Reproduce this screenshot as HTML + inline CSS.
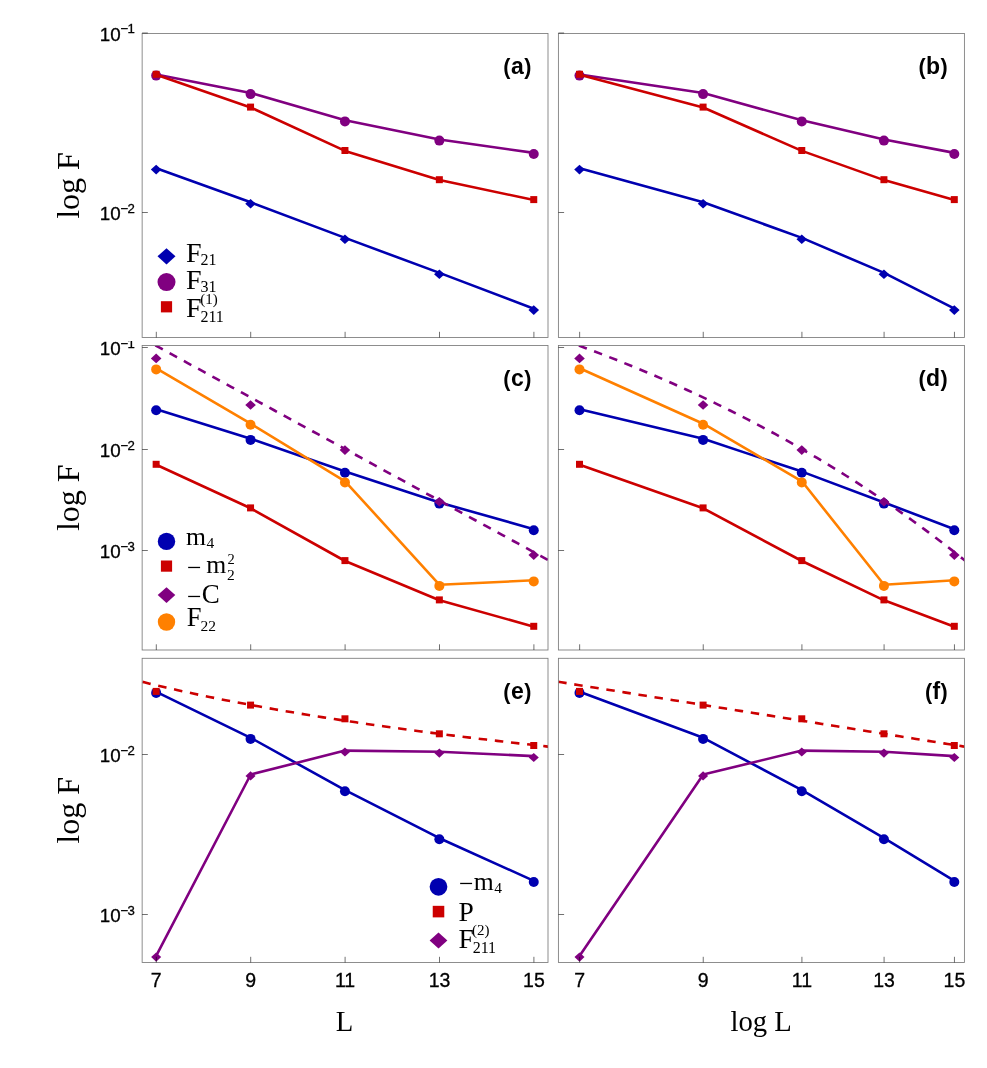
<!DOCTYPE html><html><head><meta charset="utf-8"><style>html,body{margin:0;padding:0;background:#fff}svg{display:block;will-change:transform}</style></head><body><svg width="987" height="1068" viewBox="0 0 987 1068">
<defs>
<clipPath id="cp00"><rect x="142.14" y="33.5" width="405.86" height="304.0"/></clipPath>
<clipPath id="cp01"><rect x="558.4" y="33.5" width="406.0" height="304.0"/></clipPath>
<clipPath id="cp10"><rect x="142.14" y="345.5" width="405.86" height="304.5"/></clipPath>
<clipPath id="cp11"><rect x="558.4" y="345.5" width="406.0" height="304.5"/></clipPath>
<clipPath id="cp20"><rect x="142.14" y="658.3" width="405.86" height="304.20000000000005"/></clipPath>
<clipPath id="cp21"><rect x="558.4" y="658.3" width="406.0" height="304.20000000000005"/></clipPath>
<clipPath id="rowc"><rect x="0" y="341" width="987" height="320"/></clipPath>
</defs>
<rect width="987" height="1068" fill="#fff"/>
<g clip-path="url(#cp00)">
<polyline fill="none" stroke="#0000b0" stroke-width="2.60" stroke-linejoin="round" points="156.30,168.20 250.70,202.30 345.10,237.90 439.50,272.90 533.90,308.70"/><path d="M150.85 169.60L156.15 164.80L161.45 169.60L156.15 174.40Z" fill="#0000b0"/><path d="M245.25 203.70L250.55 198.90L255.85 203.70L250.55 208.50Z" fill="#0000b0"/><path d="M339.65 239.30L344.95 234.50L350.25 239.30L344.95 244.10Z" fill="#0000b0"/><path d="M434.05 274.30L439.35 269.50L444.65 274.30L439.35 279.10Z" fill="#0000b0"/><path d="M528.45 310.10L533.75 305.30L539.05 310.10L533.75 314.90Z" fill="#0000b0"/>
<polyline fill="none" stroke="#800080" stroke-width="2.60" stroke-linejoin="round" points="156.30,74.50 250.70,93.00 345.10,120.30 439.50,139.50 533.90,152.90"/><circle cx="156.15" cy="75.60" r="5.00" fill="#800080"/><circle cx="250.55" cy="94.10" r="5.00" fill="#800080"/><circle cx="344.95" cy="121.40" r="5.00" fill="#800080"/><circle cx="439.35" cy="140.60" r="5.00" fill="#800080"/><circle cx="533.75" cy="154.00" r="5.00" fill="#800080"/>
<polyline fill="none" stroke="#cc0000" stroke-width="2.60" stroke-linejoin="round" points="156.30,74.70 250.70,107.50 345.10,150.90 439.50,180.10 533.90,200.00"/><rect x="152.65" y="70.80" width="7.00" height="7.00" fill="#cc0000"/><rect x="247.05" y="103.60" width="7.00" height="7.00" fill="#cc0000"/><rect x="341.45" y="147.00" width="7.00" height="7.00" fill="#cc0000"/><rect x="435.85" y="176.20" width="7.00" height="7.00" fill="#cc0000"/><rect x="530.25" y="196.10" width="7.00" height="7.00" fill="#cc0000"/>
</g>
<rect x="142.14" y="33.5" width="405.86" height="304.0" fill="none" stroke="#7a7a7a" stroke-width="0.85"/>
<line x1="156.30" x2="156.30" y1="337.5" y2="331.8" stroke="#000" stroke-opacity="0.8" stroke-width="0.7"/>
<line x1="250.70" x2="250.70" y1="337.5" y2="331.8" stroke="#000" stroke-opacity="0.8" stroke-width="0.7"/>
<line x1="345.10" x2="345.10" y1="337.5" y2="331.8" stroke="#000" stroke-opacity="0.8" stroke-width="0.7"/>
<line x1="439.50" x2="439.50" y1="337.5" y2="331.8" stroke="#000" stroke-opacity="0.8" stroke-width="0.7"/>
<line x1="533.90" x2="533.90" y1="337.5" y2="331.8" stroke="#000" stroke-opacity="0.8" stroke-width="0.7"/>
<line x1="142.14" x2="147.83999999999997" y1="33.0" y2="33.0" stroke="#000" stroke-opacity="0.8" stroke-width="0.7"/>
<line x1="142.14" x2="147.83999999999997" y1="212.5" y2="212.5" stroke="#000" stroke-opacity="0.8" stroke-width="0.7"/>
<g clip-path="url(#cp01)">
<polyline fill="none" stroke="#0000b0" stroke-width="2.60" stroke-linejoin="round" points="579.65,168.20 703.24,202.30 801.92,237.90 884.08,272.90 954.45,308.70"/><path d="M574.20 169.60L579.50 164.80L584.80 169.60L579.50 174.40Z" fill="#0000b0"/><path d="M697.79 203.70L703.09 198.90L708.39 203.70L703.09 208.50Z" fill="#0000b0"/><path d="M796.47 239.30L801.77 234.50L807.07 239.30L801.77 244.10Z" fill="#0000b0"/><path d="M878.63 274.30L883.93 269.50L889.23 274.30L883.93 279.10Z" fill="#0000b0"/><path d="M949.00 310.10L954.30 305.30L959.60 310.10L954.30 314.90Z" fill="#0000b0"/>
<polyline fill="none" stroke="#800080" stroke-width="2.60" stroke-linejoin="round" points="579.65,74.50 703.24,93.00 801.92,120.30 884.08,139.50 954.45,152.90"/><circle cx="579.50" cy="75.60" r="5.00" fill="#800080"/><circle cx="703.09" cy="94.10" r="5.00" fill="#800080"/><circle cx="801.77" cy="121.40" r="5.00" fill="#800080"/><circle cx="883.93" cy="140.60" r="5.00" fill="#800080"/><circle cx="954.30" cy="154.00" r="5.00" fill="#800080"/>
<polyline fill="none" stroke="#cc0000" stroke-width="2.60" stroke-linejoin="round" points="579.65,74.70 703.24,107.50 801.92,150.90 884.08,180.10 954.45,200.00"/><rect x="576.00" y="70.80" width="7.00" height="7.00" fill="#cc0000"/><rect x="699.59" y="103.60" width="7.00" height="7.00" fill="#cc0000"/><rect x="798.27" y="147.00" width="7.00" height="7.00" fill="#cc0000"/><rect x="880.43" y="176.20" width="7.00" height="7.00" fill="#cc0000"/><rect x="950.80" y="196.10" width="7.00" height="7.00" fill="#cc0000"/>
</g>
<rect x="558.4" y="33.5" width="406.0" height="304.0" fill="none" stroke="#7a7a7a" stroke-width="0.85"/>
<line x1="579.65" x2="579.65" y1="337.5" y2="331.8" stroke="#000" stroke-opacity="0.8" stroke-width="0.7"/>
<line x1="703.24" x2="703.24" y1="337.5" y2="331.8" stroke="#000" stroke-opacity="0.8" stroke-width="0.7"/>
<line x1="801.92" x2="801.92" y1="337.5" y2="331.8" stroke="#000" stroke-opacity="0.8" stroke-width="0.7"/>
<line x1="884.08" x2="884.08" y1="337.5" y2="331.8" stroke="#000" stroke-opacity="0.8" stroke-width="0.7"/>
<line x1="954.45" x2="954.45" y1="337.5" y2="331.8" stroke="#000" stroke-opacity="0.8" stroke-width="0.7"/>
<line x1="558.4" x2="564.1" y1="33.0" y2="33.0" stroke="#000" stroke-opacity="0.8" stroke-width="0.7"/>
<line x1="558.4" x2="564.1" y1="212.5" y2="212.5" stroke="#000" stroke-opacity="0.8" stroke-width="0.7"/>
<g clip-path="url(#cp10)">
<polyline fill="none" stroke="#0000b0" stroke-width="2.60" stroke-linejoin="round" points="156.30,409.20 250.70,438.80 345.10,471.60 439.50,502.50 533.90,529.20"/><circle cx="156.15" cy="410.30" r="5.00" fill="#0000b0"/><circle cx="250.55" cy="439.90" r="5.00" fill="#0000b0"/><circle cx="344.95" cy="472.70" r="5.00" fill="#0000b0"/><circle cx="439.35" cy="503.60" r="5.00" fill="#0000b0"/><circle cx="533.75" cy="530.30" r="5.00" fill="#0000b0"/>
<polyline fill="none" stroke="#cc0000" stroke-width="2.60" stroke-linejoin="round" points="156.30,464.70 250.70,508.30 345.10,561.00 439.50,600.30 533.90,626.70"/><rect x="152.65" y="460.80" width="7.00" height="7.00" fill="#cc0000"/><rect x="247.05" y="504.40" width="7.00" height="7.00" fill="#cc0000"/><rect x="341.45" y="557.10" width="7.00" height="7.00" fill="#cc0000"/><rect x="435.85" y="596.40" width="7.00" height="7.00" fill="#cc0000"/><rect x="530.25" y="622.80" width="7.00" height="7.00" fill="#cc0000"/>
<polyline fill="none" stroke="#800080" stroke-width="2.60" stroke-dasharray="8.5 7.75" stroke-dashoffset="1.32" points="127.98,330.43 133.41,333.39 138.84,336.36 144.26,339.32 149.69,342.29 155.12,345.26 160.55,348.22 165.98,351.19 171.40,354.15 176.83,357.12 182.26,360.08 187.69,363.05 193.12,366.02 198.54,368.98 203.97,371.95 209.40,374.91 214.83,377.88 220.26,380.85 225.68,383.81 231.11,386.78 236.54,389.74 241.97,392.71 247.40,395.67 252.82,398.64 258.25,401.61 263.68,404.57 269.11,407.54 274.54,410.50 279.96,413.47 285.39,416.44 290.82,419.40 296.25,422.37 301.68,425.33 307.10,428.30 312.53,431.26 317.96,434.23 323.39,437.20 328.82,440.16 334.24,443.13 339.67,446.09 345.10,449.06 350.53,452.03 355.96,454.99 361.38,457.96 366.81,460.92 372.24,463.89 377.67,466.86 383.10,469.82 388.52,472.79 393.95,475.75 399.38,478.72 404.81,481.68 410.24,484.65 415.66,487.62 421.09,490.58 426.52,493.55 431.95,496.51 437.38,499.48 442.80,502.45 448.23,505.41 453.66,508.38 459.09,511.34 464.52,514.31 469.94,517.27 475.37,520.24 480.80,523.21 486.23,526.17 491.66,529.14 497.08,532.10 502.51,535.07 507.94,538.04 513.37,541.00 518.80,543.97 524.22,546.93 529.65,549.90 535.08,552.86 540.51,555.83 545.94,558.80 551.36,561.76 556.79,564.73 562.22,567.69"/>
<path d="M150.85 358.40L156.15 353.60L161.45 358.40L156.15 363.20Z" fill="#800080"/><path d="M245.25 405.00L250.55 400.20L255.85 405.00L250.55 409.80Z" fill="#800080"/><path d="M339.65 450.10L344.95 445.30L350.25 450.10L344.95 454.90Z" fill="#800080"/><path d="M434.05 501.80L439.35 497.00L444.65 501.80L439.35 506.60Z" fill="#800080"/><path d="M528.45 555.10L533.75 550.30L539.05 555.10L533.75 559.90Z" fill="#800080"/>
<polyline fill="none" stroke="#ff8000" stroke-width="2.60" stroke-linejoin="round" points="156.30,368.30 250.70,423.70 345.10,481.30 439.50,584.80 533.90,580.30"/><circle cx="156.15" cy="369.40" r="5.00" fill="#ff8000"/><circle cx="250.55" cy="424.80" r="5.00" fill="#ff8000"/><circle cx="344.95" cy="482.40" r="5.00" fill="#ff8000"/><circle cx="439.35" cy="585.90" r="5.00" fill="#ff8000"/><circle cx="533.75" cy="581.40" r="5.00" fill="#ff8000"/>
</g>
<rect x="142.14" y="345.5" width="405.86" height="304.5" fill="none" stroke="#7a7a7a" stroke-width="0.85"/>
<line x1="156.30" x2="156.30" y1="650.0" y2="644.3" stroke="#000" stroke-opacity="0.8" stroke-width="0.7"/>
<line x1="250.70" x2="250.70" y1="650.0" y2="644.3" stroke="#000" stroke-opacity="0.8" stroke-width="0.7"/>
<line x1="345.10" x2="345.10" y1="650.0" y2="644.3" stroke="#000" stroke-opacity="0.8" stroke-width="0.7"/>
<line x1="439.50" x2="439.50" y1="650.0" y2="644.3" stroke="#000" stroke-opacity="0.8" stroke-width="0.7"/>
<line x1="533.90" x2="533.90" y1="650.0" y2="644.3" stroke="#000" stroke-opacity="0.8" stroke-width="0.7"/>
<line x1="142.14" x2="147.83999999999997" y1="347.5" y2="347.5" stroke="#000" stroke-opacity="0.8" stroke-width="0.7"/>
<line x1="142.14" x2="147.83999999999997" y1="449.5" y2="449.5" stroke="#000" stroke-opacity="0.8" stroke-width="0.7"/>
<line x1="142.14" x2="147.83999999999997" y1="550.5" y2="550.5" stroke="#000" stroke-opacity="0.8" stroke-width="0.7"/>
<g clip-path="url(#cp11)">
<polyline fill="none" stroke="#0000b0" stroke-width="2.60" stroke-linejoin="round" points="579.65,409.20 703.24,438.80 801.92,471.60 884.08,502.50 954.45,529.20"/><circle cx="579.50" cy="410.30" r="5.00" fill="#0000b0"/><circle cx="703.09" cy="439.90" r="5.00" fill="#0000b0"/><circle cx="801.77" cy="472.70" r="5.00" fill="#0000b0"/><circle cx="883.93" cy="503.60" r="5.00" fill="#0000b0"/><circle cx="954.30" cy="530.30" r="5.00" fill="#0000b0"/>
<polyline fill="none" stroke="#cc0000" stroke-width="2.60" stroke-linejoin="round" points="579.65,464.70 703.24,508.30 801.92,561.00 884.08,600.30 954.45,626.70"/><rect x="576.00" y="460.80" width="7.00" height="7.00" fill="#cc0000"/><rect x="699.59" y="504.40" width="7.00" height="7.00" fill="#cc0000"/><rect x="798.27" y="557.10" width="7.00" height="7.00" fill="#cc0000"/><rect x="880.43" y="596.40" width="7.00" height="7.00" fill="#cc0000"/><rect x="950.80" y="622.80" width="7.00" height="7.00" fill="#cc0000"/>
<polyline fill="none" stroke="#800080" stroke-width="2.60" stroke-dasharray="8.5 7.75" stroke-dashoffset="2.87" points="535.58,330.43 544.34,333.39 552.94,336.36 561.40,339.32 569.71,342.29 577.89,345.26 585.93,348.22 593.85,351.19 601.63,354.15 609.30,357.12 616.85,360.08 624.28,363.05 631.60,366.02 638.82,368.98 645.93,371.95 652.94,374.91 659.85,377.88 666.67,380.85 673.39,383.81 680.02,386.78 686.57,389.74 693.03,392.71 699.40,395.67 705.69,398.64 711.91,401.61 718.04,404.57 724.10,407.54 730.09,410.50 736.00,413.47 741.85,416.44 747.62,419.40 753.33,422.37 758.97,425.33 764.55,428.30 770.07,431.26 775.52,434.23 780.92,437.20 786.25,440.16 791.53,443.13 796.76,446.09 801.92,449.06 807.04,452.03 812.10,454.99 817.11,457.96 822.07,460.92 826.98,463.89 831.84,466.86 836.66,469.82 841.42,472.79 846.15,475.75 850.82,478.72 855.46,481.68 860.05,484.65 864.59,487.62 869.10,490.58 873.56,493.55 877.99,496.51 882.37,499.48 886.72,502.45 891.03,505.41 895.30,508.38 899.53,511.34 903.73,514.31 907.89,517.27 912.02,520.24 916.11,523.21 920.17,526.17 924.20,529.14 928.19,532.10 932.15,535.07 936.08,538.04 939.98,541.00 943.85,543.97 947.68,546.93 951.49,549.90 955.27,552.86 959.02,555.83 962.74,558.80 966.43,561.76 970.10,564.73 973.74,567.69"/>
<path d="M574.20 358.40L579.50 353.60L584.80 358.40L579.50 363.20Z" fill="#800080"/><path d="M697.79 405.00L703.09 400.20L708.39 405.00L703.09 409.80Z" fill="#800080"/><path d="M796.47 450.10L801.77 445.30L807.07 450.10L801.77 454.90Z" fill="#800080"/><path d="M878.63 501.80L883.93 497.00L889.23 501.80L883.93 506.60Z" fill="#800080"/><path d="M949.00 555.10L954.30 550.30L959.60 555.10L954.30 559.90Z" fill="#800080"/>
<polyline fill="none" stroke="#ff8000" stroke-width="2.60" stroke-linejoin="round" points="579.65,368.30 703.24,423.70 801.92,481.30 884.08,584.80 954.45,580.30"/><circle cx="579.50" cy="369.40" r="5.00" fill="#ff8000"/><circle cx="703.09" cy="424.80" r="5.00" fill="#ff8000"/><circle cx="801.77" cy="482.40" r="5.00" fill="#ff8000"/><circle cx="883.93" cy="585.90" r="5.00" fill="#ff8000"/><circle cx="954.30" cy="581.40" r="5.00" fill="#ff8000"/>
</g>
<rect x="558.4" y="345.5" width="406.0" height="304.5" fill="none" stroke="#7a7a7a" stroke-width="0.85"/>
<line x1="579.65" x2="579.65" y1="650.0" y2="644.3" stroke="#000" stroke-opacity="0.8" stroke-width="0.7"/>
<line x1="703.24" x2="703.24" y1="650.0" y2="644.3" stroke="#000" stroke-opacity="0.8" stroke-width="0.7"/>
<line x1="801.92" x2="801.92" y1="650.0" y2="644.3" stroke="#000" stroke-opacity="0.8" stroke-width="0.7"/>
<line x1="884.08" x2="884.08" y1="650.0" y2="644.3" stroke="#000" stroke-opacity="0.8" stroke-width="0.7"/>
<line x1="954.45" x2="954.45" y1="650.0" y2="644.3" stroke="#000" stroke-opacity="0.8" stroke-width="0.7"/>
<line x1="558.4" x2="564.1" y1="347.5" y2="347.5" stroke="#000" stroke-opacity="0.8" stroke-width="0.7"/>
<line x1="558.4" x2="564.1" y1="449.5" y2="449.5" stroke="#000" stroke-opacity="0.8" stroke-width="0.7"/>
<line x1="558.4" x2="564.1" y1="550.5" y2="550.5" stroke="#000" stroke-opacity="0.8" stroke-width="0.7"/>
<g clip-path="url(#cp20)">
<polyline fill="none" stroke="#0000b0" stroke-width="2.60" stroke-linejoin="round" points="156.30,691.80 250.70,737.80 345.10,790.20 439.50,838.20 533.90,880.90"/><circle cx="156.15" cy="692.90" r="5.00" fill="#0000b0"/><circle cx="250.55" cy="738.90" r="5.00" fill="#0000b0"/><circle cx="344.95" cy="791.30" r="5.00" fill="#0000b0"/><circle cx="439.35" cy="839.30" r="5.00" fill="#0000b0"/><circle cx="533.75" cy="882.00" r="5.00" fill="#0000b0"/>
<polyline fill="none" stroke="#cc0000" stroke-width="2.60" stroke-dasharray="8.5 7.75" stroke-dashoffset="1.37" points="127.98,678.21 133.41,679.61 138.84,680.98 144.26,682.33 149.69,683.65 155.12,684.96 160.55,686.24 165.98,687.50 171.40,688.75 176.83,689.97 182.26,691.17 187.69,692.36 193.12,693.53 198.54,694.68 203.97,695.81 209.40,696.93 214.83,698.04 220.26,699.12 225.68,700.20 231.11,701.25 236.54,702.30 241.97,703.33 247.40,704.35 252.82,705.35 258.25,706.34 263.68,707.32 269.11,708.29 274.54,709.24 279.96,710.19 285.39,711.12 290.82,712.04 296.25,712.95 301.68,713.85 307.10,714.74 312.53,715.62 317.96,716.49 323.39,717.35 328.82,718.20 334.24,719.04 339.67,719.88 345.10,720.70 350.53,721.52 355.96,722.33 361.38,723.13 366.81,723.92 372.24,724.70 377.67,725.48 383.10,726.24 388.52,727.00 393.95,727.76 399.38,728.50 404.81,729.24 410.24,729.98 415.66,730.70 421.09,731.42 426.52,732.13 431.95,732.84 437.38,733.54 442.80,734.23 448.23,734.92 453.66,735.60 459.09,736.28 464.52,736.95 469.94,737.61 475.37,738.27 480.80,738.92 486.23,739.57 491.66,740.21 497.08,740.85 502.51,741.48 507.94,742.11 513.37,742.73 518.80,743.35 524.22,743.96 529.65,744.57 535.08,745.17 540.51,745.77 545.94,746.36 551.36,746.95 556.79,747.53 562.22,748.11"/>
<rect x="152.65" y="687.90" width="7.00" height="7.00" fill="#cc0000"/><rect x="247.05" y="701.60" width="7.00" height="7.00" fill="#cc0000"/><rect x="341.45" y="715.30" width="7.00" height="7.00" fill="#cc0000"/><rect x="435.85" y="730.30" width="7.00" height="7.00" fill="#cc0000"/><rect x="530.25" y="742.00" width="7.00" height="7.00" fill="#cc0000"/>
<polyline fill="none" stroke="#800080" stroke-width="2.60" stroke-linejoin="round" points="156.30,955.70 250.70,774.50 345.10,750.60 439.50,751.70 533.90,756.10"/><path d="M151.12 957.10L156.15 952.54L161.19 957.10L156.15 961.66Z" fill="#800080"/><path d="M245.52 775.90L250.55 771.34L255.59 775.90L250.55 780.46Z" fill="#800080"/><path d="M339.92 752.00L344.95 747.44L349.99 752.00L344.95 756.56Z" fill="#800080"/><path d="M434.32 753.10L439.35 748.54L444.39 753.10L439.35 757.66Z" fill="#800080"/><path d="M528.72 757.50L533.75 752.94L538.79 757.50L533.75 762.06Z" fill="#800080"/>
</g>
<rect x="142.14" y="658.3" width="405.86" height="304.20000000000005" fill="none" stroke="#7a7a7a" stroke-width="0.85"/>
<line x1="156.30" x2="156.30" y1="962.5" y2="956.8" stroke="#000" stroke-opacity="0.8" stroke-width="0.7"/>
<line x1="250.70" x2="250.70" y1="962.5" y2="956.8" stroke="#000" stroke-opacity="0.8" stroke-width="0.7"/>
<line x1="345.10" x2="345.10" y1="962.5" y2="956.8" stroke="#000" stroke-opacity="0.8" stroke-width="0.7"/>
<line x1="439.50" x2="439.50" y1="962.5" y2="956.8" stroke="#000" stroke-opacity="0.8" stroke-width="0.7"/>
<line x1="533.90" x2="533.90" y1="962.5" y2="956.8" stroke="#000" stroke-opacity="0.8" stroke-width="0.7"/>
<line x1="142.14" x2="147.83999999999997" y1="754.5" y2="754.5" stroke="#000" stroke-opacity="0.8" stroke-width="0.7"/>
<line x1="142.14" x2="147.83999999999997" y1="914.5" y2="914.5" stroke="#000" stroke-opacity="0.8" stroke-width="0.7"/>
<g clip-path="url(#cp21)">
<polyline fill="none" stroke="#0000b0" stroke-width="2.60" stroke-linejoin="round" points="579.65,691.80 703.24,737.80 801.92,790.20 884.08,838.20 954.45,880.90"/><circle cx="579.50" cy="692.90" r="5.00" fill="#0000b0"/><circle cx="703.09" cy="738.90" r="5.00" fill="#0000b0"/><circle cx="801.77" cy="791.30" r="5.00" fill="#0000b0"/><circle cx="883.93" cy="839.30" r="5.00" fill="#0000b0"/><circle cx="954.30" cy="882.00" r="5.00" fill="#0000b0"/>
<polyline fill="none" stroke="#cc0000" stroke-width="2.60" stroke-dasharray="8.5 7.75" stroke-dashoffset="9.59" points="535.58,678.21 544.34,679.61 552.94,680.98 561.40,682.33 569.71,683.65 577.89,684.96 585.93,686.24 593.85,687.50 601.63,688.75 609.30,689.97 616.85,691.17 624.28,692.36 631.60,693.53 638.82,694.68 645.93,695.81 652.94,696.93 659.85,698.04 666.67,699.12 673.39,700.20 680.02,701.25 686.57,702.30 693.03,703.33 699.40,704.35 705.69,705.35 711.91,706.34 718.04,707.32 724.10,708.29 730.09,709.24 736.00,710.19 741.85,711.12 747.62,712.04 753.33,712.95 758.97,713.85 764.55,714.74 770.07,715.62 775.52,716.49 780.92,717.35 786.25,718.20 791.53,719.04 796.76,719.88 801.92,720.70 807.04,721.52 812.10,722.33 817.11,723.13 822.07,723.92 826.98,724.70 831.84,725.48 836.66,726.24 841.42,727.00 846.15,727.76 850.82,728.50 855.46,729.24 860.05,729.98 864.59,730.70 869.10,731.42 873.56,732.13 877.99,732.84 882.37,733.54 886.72,734.23 891.03,734.92 895.30,735.60 899.53,736.28 903.73,736.95 907.89,737.61 912.02,738.27 916.11,738.92 920.17,739.57 924.20,740.21 928.19,740.85 932.15,741.48 936.08,742.11 939.98,742.73 943.85,743.35 947.68,743.96 951.49,744.57 955.27,745.17 959.02,745.77 962.74,746.36 966.43,746.95 970.10,747.53 973.74,748.11"/>
<rect x="576.00" y="687.90" width="7.00" height="7.00" fill="#cc0000"/><rect x="699.59" y="701.60" width="7.00" height="7.00" fill="#cc0000"/><rect x="798.27" y="715.30" width="7.00" height="7.00" fill="#cc0000"/><rect x="880.43" y="730.30" width="7.00" height="7.00" fill="#cc0000"/><rect x="950.80" y="742.00" width="7.00" height="7.00" fill="#cc0000"/>
<polyline fill="none" stroke="#800080" stroke-width="2.60" stroke-linejoin="round" points="579.65,955.70 703.24,774.50 801.92,750.60 884.08,751.70 954.45,756.10"/><path d="M574.47 957.10L579.50 952.54L584.53 957.10L579.50 961.66Z" fill="#800080"/><path d="M698.05 775.90L703.09 771.34L708.12 775.90L703.09 780.46Z" fill="#800080"/><path d="M796.74 752.00L801.77 747.44L806.81 752.00L801.77 756.56Z" fill="#800080"/><path d="M878.89 753.10L883.93 748.54L888.96 753.10L883.93 757.66Z" fill="#800080"/><path d="M949.27 757.50L954.30 752.94L959.34 757.50L954.30 762.06Z" fill="#800080"/>
</g>
<rect x="558.4" y="658.3" width="406.0" height="304.20000000000005" fill="none" stroke="#7a7a7a" stroke-width="0.85"/>
<line x1="579.65" x2="579.65" y1="962.5" y2="956.8" stroke="#000" stroke-opacity="0.8" stroke-width="0.7"/>
<line x1="703.24" x2="703.24" y1="962.5" y2="956.8" stroke="#000" stroke-opacity="0.8" stroke-width="0.7"/>
<line x1="801.92" x2="801.92" y1="962.5" y2="956.8" stroke="#000" stroke-opacity="0.8" stroke-width="0.7"/>
<line x1="884.08" x2="884.08" y1="962.5" y2="956.8" stroke="#000" stroke-opacity="0.8" stroke-width="0.7"/>
<line x1="954.45" x2="954.45" y1="962.5" y2="956.8" stroke="#000" stroke-opacity="0.8" stroke-width="0.7"/>
<line x1="558.4" x2="564.1" y1="754.5" y2="754.5" stroke="#000" stroke-opacity="0.8" stroke-width="0.7"/>
<line x1="558.4" x2="564.1" y1="914.5" y2="914.5" stroke="#000" stroke-opacity="0.8" stroke-width="0.7"/>
<g>
<text x="99.7" y="40.60" font-family="Liberation Sans, sans-serif" font-size="18.8" fill="#000" stroke="#000" stroke-width="0.3">10<tspan font-size="13.2" dy="-7.3" x="120.6" letter-spacing="-0.7">−1</tspan></text>
<text x="99.7" y="220.10" font-family="Liberation Sans, sans-serif" font-size="18.8" fill="#000" stroke="#000" stroke-width="0.3">10<tspan font-size="13.2" dy="-7.3" x="120.6" letter-spacing="-0.7">−2</tspan></text>
</g>
<g clip-path="url(#rowc)">
<text x="99.7" y="355.10" font-family="Liberation Sans, sans-serif" font-size="18.8" fill="#000" stroke="#000" stroke-width="0.3">10<tspan font-size="13.2" dy="-7.3" x="120.6" letter-spacing="-0.7">−1</tspan></text>
<text x="99.7" y="457.10" font-family="Liberation Sans, sans-serif" font-size="18.8" fill="#000" stroke="#000" stroke-width="0.3">10<tspan font-size="13.2" dy="-7.3" x="120.6" letter-spacing="-0.7">−2</tspan></text>
<text x="99.7" y="558.10" font-family="Liberation Sans, sans-serif" font-size="18.8" fill="#000" stroke="#000" stroke-width="0.3">10<tspan font-size="13.2" dy="-7.3" x="120.6" letter-spacing="-0.7">−3</tspan></text>
</g>
<g>
<text x="99.7" y="762.10" font-family="Liberation Sans, sans-serif" font-size="18.8" fill="#000" stroke="#000" stroke-width="0.3">10<tspan font-size="13.2" dy="-7.3" x="120.6" letter-spacing="-0.7">−2</tspan></text>
<text x="99.7" y="922.10" font-family="Liberation Sans, sans-serif" font-size="18.8" fill="#000" stroke="#000" stroke-width="0.3">10<tspan font-size="13.2" dy="-7.3" x="120.6" letter-spacing="-0.7">−3</tspan></text>
</g>
<text x="156.30" y="986.5" text-anchor="middle" font-family="Liberation Sans, sans-serif" font-size="19.5" fill="#000" stroke="#000" stroke-width="0.3">7</text>
<text x="250.70" y="986.5" text-anchor="middle" font-family="Liberation Sans, sans-serif" font-size="19.5" fill="#000" stroke="#000" stroke-width="0.3">9</text>
<text x="345.10" y="986.5" text-anchor="middle" font-family="Liberation Sans, sans-serif" font-size="19.5" fill="#000" stroke="#000" stroke-width="0.3">11</text>
<text x="439.50" y="986.5" text-anchor="middle" font-family="Liberation Sans, sans-serif" font-size="19.5" fill="#000" stroke="#000" stroke-width="0.3">13</text>
<text x="533.90" y="986.5" text-anchor="middle" font-family="Liberation Sans, sans-serif" font-size="19.5" fill="#000" stroke="#000" stroke-width="0.3">15</text>
<text x="579.65" y="986.5" text-anchor="middle" font-family="Liberation Sans, sans-serif" font-size="19.5" fill="#000" stroke="#000" stroke-width="0.3">7</text>
<text x="703.24" y="986.5" text-anchor="middle" font-family="Liberation Sans, sans-serif" font-size="19.5" fill="#000" stroke="#000" stroke-width="0.3">9</text>
<text x="801.92" y="986.5" text-anchor="middle" font-family="Liberation Sans, sans-serif" font-size="19.5" fill="#000" stroke="#000" stroke-width="0.3">11</text>
<text x="884.08" y="986.5" text-anchor="middle" font-family="Liberation Sans, sans-serif" font-size="19.5" fill="#000" stroke="#000" stroke-width="0.3">13</text>
<text x="954.45" y="986.5" text-anchor="middle" font-family="Liberation Sans, sans-serif" font-size="19.5" fill="#000" stroke="#000" stroke-width="0.3">15</text>
<text transform="translate(78.9,185.50) rotate(-90)" text-anchor="middle" font-family="Liberation Serif, serif" font-size="32" fill="#000">log F</text>
<text transform="translate(78.9,497.75) rotate(-90)" text-anchor="middle" font-family="Liberation Serif, serif" font-size="32" fill="#000">log F</text>
<text transform="translate(78.9,810.40) rotate(-90)" text-anchor="middle" font-family="Liberation Serif, serif" font-size="32" fill="#000">log F</text>
<text x="344.6" y="1031.1" text-anchor="middle" font-family="Liberation Serif, serif" font-size="28.7" fill="#000">L</text>
<text x="761.1" y="1031.1" text-anchor="middle" font-family="Liberation Serif, serif" font-size="28.7" fill="#000">log L</text>
<text x="531.30" y="74" text-anchor="end" font-family="Liberation Sans, sans-serif" font-weight="bold" font-size="23" fill="#000"><tspan font-size="21.5">(</tspan><tspan dx="0.4">a</tspan><tspan font-size="21.5" dx="0.4">)</tspan></text>
<text x="947.70" y="74" text-anchor="end" font-family="Liberation Sans, sans-serif" font-weight="bold" font-size="23" fill="#000"><tspan font-size="21.5">(</tspan><tspan dx="0.4">b</tspan><tspan font-size="21.5" dx="0.4">)</tspan></text>
<text x="531.30" y="386" text-anchor="end" font-family="Liberation Sans, sans-serif" font-weight="bold" font-size="23" fill="#000"><tspan font-size="21.5">(</tspan><tspan dx="0.4">c</tspan><tspan font-size="21.5" dx="0.4">)</tspan></text>
<text x="947.70" y="386" text-anchor="end" font-family="Liberation Sans, sans-serif" font-weight="bold" font-size="23" fill="#000"><tspan font-size="21.5">(</tspan><tspan dx="0.4">d</tspan><tspan font-size="21.5" dx="0.4">)</tspan></text>
<text x="531.30" y="699" text-anchor="end" font-family="Liberation Sans, sans-serif" font-weight="bold" font-size="23" fill="#000"><tspan font-size="21.5">(</tspan><tspan dx="0.4">e</tspan><tspan font-size="21.5" dx="0.4">)</tspan></text>
<text x="947.70" y="699" text-anchor="end" font-family="Liberation Sans, sans-serif" font-weight="bold" font-size="23" fill="#000"><tspan font-size="21.5">(</tspan><tspan dx="0.4">f</tspan><tspan font-size="21.5" dx="0.4">)</tspan></text>
<path d="M157.49 256.30L166.50 248.14L175.51 256.30L166.50 264.46Z" fill="#0000b0"/>
<circle cx="166.50" cy="282.10" r="9.00" fill="#800080"/>
<rect x="160.90" y="301.20" width="11.20" height="11.20" fill="#cc0000"/>
<text x="186" y="262.3" font-family="Liberation Serif, serif" font-size="28" fill="#000">F</text>
<text x="200.4" y="264.6" font-family="Liberation Serif, serif" font-size="16" fill="#000">21</text>
<text x="186" y="288.8" font-family="Liberation Serif, serif" font-size="28" fill="#000">F</text>
<text x="200.4" y="291.5" font-family="Liberation Serif, serif" font-size="16" fill="#000">31</text>
<text x="186" y="316.6" font-family="Liberation Serif, serif" font-size="28" fill="#000">F</text>
<text x="200.4" y="321.6" font-family="Liberation Serif, serif" font-size="16" fill="#000">211</text>
<text x="200.2" y="304.1" font-family="Liberation Serif, serif" font-size="15" fill="#000">(1)</text>
<circle cx="166.50" cy="541.40" r="8.70" fill="#0000b0"/>
<rect x="160.90" y="560.50" width="11.20" height="11.20" fill="#cc0000"/>
<path d="M157.70 595.10L166.50 587.13L175.30 595.10L166.50 603.07Z" fill="#800080"/>
<circle cx="166.50" cy="622.00" r="8.70" fill="#ff8000"/>
<text x="185.9" y="544.5" font-family="Liberation Serif, serif" font-size="25.7" fill="#000">m</text>
<text x="206.4" y="547.9" font-family="Liberation Serif, serif" font-size="15.5" fill="#000">4</text>
<text x="187.1" y="575.713" font-family="Liberation Serif, serif" font-size="25.7" fill="#000">−</text>
<text x="206.3" y="573.4" font-family="Liberation Serif, serif" font-size="25.7" fill="#000">m</text>
<text x="227.0" y="579.6" font-family="Liberation Serif, serif" font-size="15.5" fill="#000">2</text>
<text x="227.6" y="564.4" font-family="Liberation Serif, serif" font-size="14.5" fill="#000">2</text>
<text x="187.1" y="605.1129999999999" font-family="Liberation Serif, serif" font-size="25.7" fill="#000">−</text>
<text x="201.8" y="602.8" font-family="Liberation Serif, serif" font-size="27" fill="#000">C</text>
<text x="186.7" y="626.2" font-family="Liberation Serif, serif" font-size="26.5" fill="#000">F</text>
<text x="200.6" y="630.7" font-family="Liberation Serif, serif" font-size="15.5" fill="#000">22</text>
<circle cx="438.50" cy="886.80" r="8.85" fill="#0000b0"/>
<rect x="432.73" y="905.83" width="11.55" height="11.55" fill="#cc0000"/>
<path d="M429.60 940.50L438.50 932.44L447.40 940.50L438.50 948.56Z" fill="#800080"/>
<text x="459.0" y="891.913" font-family="Liberation Serif, serif" font-size="25.7" fill="#000">−</text>
<text x="473.8" y="889.6" font-family="Liberation Serif, serif" font-size="25.7" fill="#000">m</text>
<text x="494.2" y="893.4" font-family="Liberation Serif, serif" font-size="15.5" fill="#000">4</text>
<text x="458.4" y="920.7" font-family="Liberation Serif, serif" font-size="27.5" fill="#000">P</text>
<text x="458.4" y="947.6" font-family="Liberation Serif, serif" font-size="27.5" fill="#000">F</text>
<text x="472.7" y="952.6" font-family="Liberation Serif, serif" font-size="16" fill="#000">211</text>
<text x="472.0" y="934.7" font-family="Liberation Serif, serif" font-size="15" fill="#000">(2)</text>
</svg></body></html>
